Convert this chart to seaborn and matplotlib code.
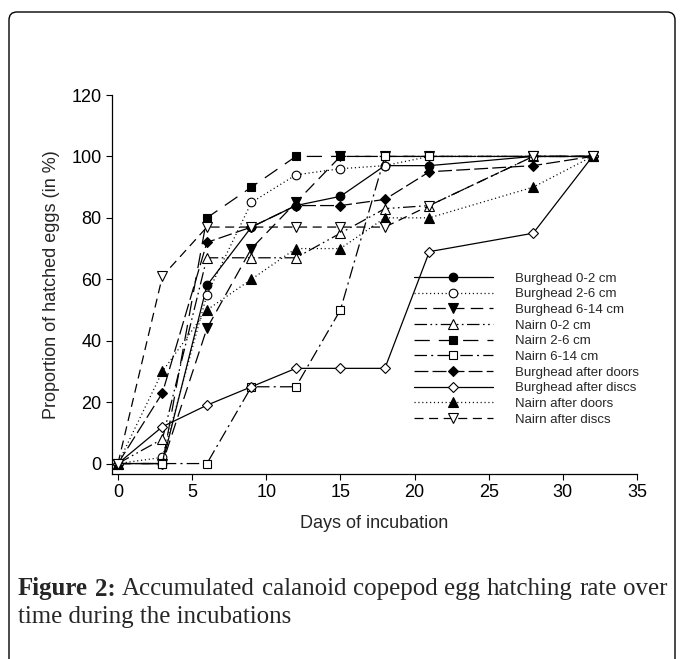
import pandas as pd
import seaborn as sns
import matplotlib.pyplot as plt
from matplotlib.patches import FancyBboxPatch

# Days of incubation and accumulated hatching (%) per treatment
days = [0, 3, 6, 9, 12, 15, 18, 21, 28, 32]

burghead_0_2 = [0, 0, 58, 77, 84, 87, 97, 97, 100, 100]
burghead_2_6 = [0, 2, 55, 85, 94, 96, 97, 100, 100, 100]
burghead_6_14 = [0, 0, 44, 70, 85, 100, 100, 100, 100, 100]
nairn_0_2 = [0, 8, 67, 67, 67, 75, 83, 84, 100, 100]
nairn_2_6 = [0, 0, 80, 90, 100, 100, 100, 100, 100, 100]
nairn_6_14 = [0, 0, 0, 25, 25, 50, 100, 100, 100, 100]
burghead_doors = [0, 23, 72, 77, 84, 84, 86, 95, 97, 100]
burghead_discs = [0, 12, 19, 25, 31, 31, 31, 69, 75, 100]
nairn_doors = [0, 30, 50, 60, 70, 70, 80, 80, 90, 100]
nairn_discs = [0, 61, 77, 77, 77, 77, 77, 84, 100, 100]

labels = ['Burghead 0-2 cm', 'Burghead 2-6 cm', 'Burghead 6-14 cm',
          'Nairn 0-2 cm', 'Nairn 2-6 cm', 'Nairn 6-14 cm',
          'Burghead after doors', 'Burghead after discs',
          'Nairn after doors', 'Nairn after discs']
values = [burghead_0_2, burghead_2_6, burghead_6_14, nairn_0_2, nairn_2_6,
          nairn_6_14, burghead_doors, burghead_discs, nairn_doors, nairn_discs]

df = pd.DataFrame({
    'Series': [lab for lab in labels for _ in days],
    'Day': days * len(labels),
    'Hatched': [v for vals in values for v in vals],
})

# marker, filled?, line style (dashes in points), marker size
styles = {
    'Burghead 0-2 cm': ('o', True, '-', 6.2),
    'Burghead 2-6 cm': ('o', False, (0, (0.8, 2.0)), 6.2),
    'Burghead 6-14 cm': ('v', True, (0, (9, 4.5)), 6.6),
    'Nairn 0-2 cm': ('^', False, (0, (9, 2.5, 1.2, 2.5, 1.2, 2.5)), 6.6),
    'Nairn 2-6 cm': ('s', True, (0, (11, 6.5)), 5.8),
    'Nairn 6-14 cm': ('s', False, (0, (9, 3, 1.5, 3)), 5.8),
    'Burghead after doors': ('D', True, (0, (10, 3)), 5.0),
    'Burghead after discs': ('D', False, '-', 5.0),
    'Nairn after doors': ('^', True, (0, (0.8, 2.0)), 6.6),
    'Nairn after discs': ('v', False, (0, (6.5, 4)), 6.6),
}

sns.set_style('ticks')
plt.rcParams['font.family'] = ['Liberation Sans', 'DejaVu Sans']
plt.rcParams['lines.scale_dashes'] = False

fig = plt.figure(figsize=(6.83, 6.59), dpi=100)
ax = fig.add_axes([112 / 683, 185 / 659, 525 / 683, 379 / 659])

for lab in labels:
    mk, filled, ls, ms = styles[lab]
    sns.lineplot(data=df[df['Series'] == lab], x='Day', y='Hatched', ax=ax,
                 color='black', linewidth=0.9, linestyle=ls, marker=mk,
                 markersize=ms, markerfacecolor='black' if filled else 'white',
                 markeredgecolor='black', markeredgewidth=0.8,
                 label=lab, errorbar=None)

ax.set_xlim(-0.4, 35)
ax.set_ylim(-3.4, 120)
ax.set_xticks(range(0, 36, 5))
ax.set_yticks(range(0, 121, 20))
ax.tick_params(direction='out', length=4, width=0.8, labelsize=13, colors='black')
for s in ['left', 'bottom']:
    ax.spines[s].set_linewidth(0.9)
    ax.spines[s].set_color('black')
sns.despine(ax=ax)
ax.set_xlabel('Days of incubation', fontsize=13, labelpad=10)
ax.set_ylabel('Proportion of hatched eggs (in %)', fontsize=13, labelpad=8)

handles, labs = ax.get_legend_handles_labels()
ax.legend(handles, labs, loc='upper left', bbox_to_anchor=(0.575, 0.532),
          frameon=False, fontsize=9.5, handlelength=6.0, handletextpad=1.7,
          labelspacing=0.26, borderpad=0, borderaxespad=0)

# rounded frame around the figure and caption
frame = FancyBboxPatch((0.09, -0.3), 6.66, 6.47 + 0.3,
                       boxstyle='round,pad=0,rounding_size=0.08',
                       transform=fig.dpi_scale_trans, fill=False,
                       edgecolor='black', linewidth=1.0, clip_on=False)
fig.add_artist(frame)

# caption: size fitted so that the first line nearly fills the width,
# then the first line is justified between the margins
fig.canvas.draw()
renderer = fig.canvas.get_renderer()
serif = ['Liberation Serif', 'DejaVu Serif']
x0, x1 = 18, 668
probe = fig.text(0, 0, 'Figure 2: Accumulated calanoid copepod egg hatching rate over',
                 family=serif, size=10)
w10 = probe.get_window_extent(renderer).width
probe.remove()
cap_size = 10 * (x1 - x0 - 12) / w10

words = ['Figure', '2:', 'Accumulated', 'calanoid', 'copepod', 'egg',
         'hatching', 'rate', 'over']
texts = []
for i, w in enumerate(words):
    t = fig.text(0, 1 - 589 / 659, w, va='center', ha='left', family=serif,
                 size=cap_size, fontweight='bold' if i < 2 else 'normal')
    texts.append(t)
widths = [t.get_window_extent(renderer).width for t in texts]
gap = (x1 - x0 - sum(widths)) / (len(words) - 1)
x = x0
for t, w in zip(texts, widths):
    t.set_x(x / 683)
    x += w + gap
fig.text(x0 / 683, 1 - 617 / 659, 'time during the incubations',
         va='center', ha='left', family=serif, size=cap_size)

fig.savefig('out.png', dpi=100)
